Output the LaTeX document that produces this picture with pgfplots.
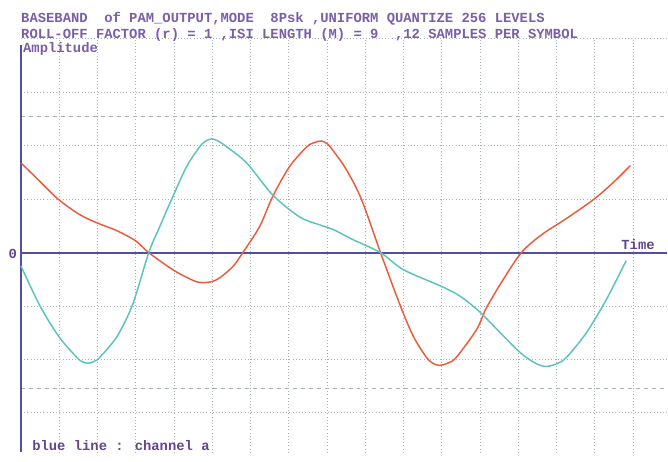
\documentclass[border=0pt]{standalone}
\usepackage{fontspec}
\setmainfont{Liberation Mono}
\usepackage{pgfplots}
\pgfplotsset{compat=1.18}
\definecolor{txt}{HTML}{7A5EA8}
\definecolor{txtd}{HTML}{64448E}
\definecolor{axc}{HTML}{50509C}
\definecolor{gridc}{HTML}{A8B2B2}
\definecolor{redc}{HTML}{EC5A3C}
\definecolor{cyanc}{HTML}{5CC2C0}
\begin{document}
\begin{tikzpicture}
\begin{axis}[
  width=485.25pt, height=310.5pt, scale only axis,
  xmin=0, xmax=16.89, ymin=-3.738, ymax=4,
  axis line style={draw=none},
  xtick={1,...,16}, ytick={-3,-2,-1,1,2,3,4},
  xticklabels={}, yticklabels={},
  major tick length=0pt,
  grid=major,
  major grid style={gridc, dotted, line width=0.7pt},
  extra y ticks={-2.55,2.55}, extra y tick labels={},
  extra tick style={major grid style={gridc, dashed, line width=0.7pt}},
  clip=false,
  every axis plot/.append style={smooth, line width=1.1pt, mark=none},
  font=\bfseries\fontsize{10.4}{12}\selectfont,
]
% invisible bounding box
\path (axis cs:-0.548,-3.738) rectangle (axis cs:16.89,4.729);
% axes
\draw[axc, line width=1.4pt] (axis cs:0,3.89) -- (axis cs:0,-3.738);
\draw[axc, line width=1.4pt] (axis cs:0,0) -- (axis cs:16.89,0);
% red curve
\addplot[redc] coordinates {
(0,1.68) (0.50,1.33) (0.99,0.99) (1.54,0.71) (1.98,0.56) (2.51,0.41)
(3.00,0.22) (3.34,0) (3.97,-0.32) (4.41,-0.49) (4.62,-0.55) (4.80,-0.56)
(5.00,-0.54) (5.20,-0.47) (5.54,-0.26) (5.80,0) (6.24,0.49) (6.58,1.05)
(7.02,1.61) (7.47,1.98) (7.67,2.06) (7.86,2.09) (8.02,2.03) (8.17,1.90)
(8.51,1.55) (8.90,1.0) (9.40,0) (9.92,-1.0) (10.26,-1.57) (10.60,-1.96)
(10.77,-2.07) (10.94,-2.11) (11.15,-2.07) (11.38,-1.96) (11.91,-1.44)
(12.17,-1.03) (12.61,-0.5) (13.08,0) (13.58,0.32) (14.26,0.64)
(14.96,0.99) (15.48,1.31) (15.93,1.63)
};
% cyan curve
\addplot[cyanc] coordinates {
(0,-0.25) (0.50,-1.0) (0.99,-1.57) (1.46,-1.96) (1.60,-2.04) (1.75,-2.07)
(1.90,-2.04) (2.06,-1.96) (2.51,-1.57) (2.92,-0.97) (3.34,0) (3.63,0.49)
(3.97,1.05) (4.33,1.61) (4.67,1.98) (4.83,2.09) (4.99,2.13) (5.15,2.09)
(5.38,1.98) (5.90,1.68) (6.58,1.08) (7.28,0.67) (7.81,0.52) (8.17,0.43)
(8.69,0.24) (9.40,0) (10.00,-0.32) (10.99,-0.63) (11.49,-0.82) (12.01,-1.12)
(12.53,-1.5) (13.05,-1.87) (13.45,-2.07) (13.73,-2.13) (14.00,-2.08)
(14.26,-1.96) (14.78,-1.5) (15.30,-0.88) (15.82,-0.15)
};
% texts
\node[anchor=base west, inner sep=0pt, txt] at (axis cs:0,4.30) {BASEBAND~~of PAM\_OUTPUT,MODE~~8Psk ,UNIFORM QUANTIZE 256 LEVELS};
\node[anchor=base west, inner sep=0pt, txt] at (axis cs:0,4.01) {ROLL-OFF FACTOR (r) = 1 ,ISI LENGTH (M) = 9~~,12 SAMPLES PER SYMBOL};
\node[anchor=base west, inner sep=0pt, txt] at (axis cs:0.05,3.74) {Amplitude};
\node[anchor=base east, inner sep=0pt, txtd] at (axis cs:-0.10,-0.112) {0};
\node[anchor=base west, inner sep=0pt, txtd] at (axis cs:15.69,0.065) {Time};
\node[anchor=base west, inner sep=0pt, txtd] at (axis cs:0.29,-3.70) {blue line : channel a};
\end{axis}
\end{tikzpicture}
\end{document}
